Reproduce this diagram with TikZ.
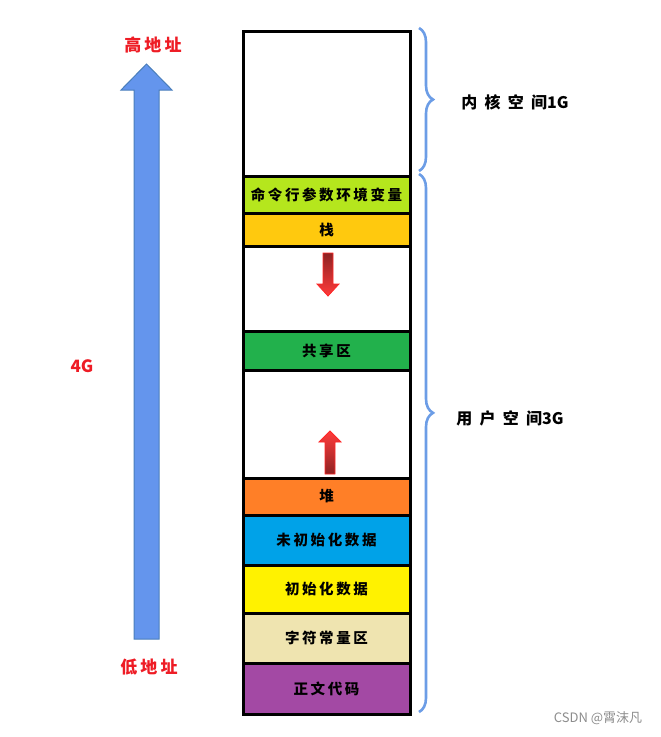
\documentclass[tikz,border=0pt]{standalone}
\usepackage{fontspec}
\newfontfamily\cjk[LetterSpace=18]{Noto Sans CJK SC}
\newfontfamily\cjkwide[LetterSpace=45]{Noto Sans CJK SC}
\newfontfamily\cjkplain{Noto Sans CJK SC}
\usetikzlibrary{decorations.pathreplacing}

\definecolor{limeseg}{HTML}{B5E61D}
\definecolor{amberseg}{HTML}{FFC90E}
\definecolor{greenseg}{HTML}{22B14C}
\definecolor{orangeseg}{HTML}{FF7F27}
\definecolor{blueseg}{HTML}{00A2E8}
\definecolor{yellowseg}{HTML}{FFF200}
\definecolor{beigeseg}{HTML}{EFE4B0}
\definecolor{purpleseg}{HTML}{A349A4}
\definecolor{addrfill}{HTML}{6495ED}
\definecolor{addrdraw}{HTML}{4A7EBB}
\definecolor{bracecol}{HTML}{6C9DE6}
\definecolor{labelred}{HTML}{EE1C25}
\definecolor{darkarrow}{HTML}{8E2323}
\definecolor{brightarrow}{HTML}{FF3B3B}

\begin{document}
\begin{tikzpicture}[x=1pt,y=-1pt]
\tikzset{
  seg/.style={draw=black,line width=3pt,minimum width=167pt,inner sep=0pt,outer sep=0pt,
    font=\cjk\bfseries\fontsize{14.5}{14.5}\selectfont},
  addrlabel/.style={text=labelred,font=\cjk\bfseries\fontsize{17}{17}\selectfont},
  spacelabel/.style={font=\cjkplain\bfseries\fontsize{16}{16}\selectfont},
  spacebrace/.style={draw=bracecol,line width=2.6pt,decorate,decoration={brace,amplitude=14pt}},
  smallarrow/.style={draw=red!85,line width=0.8pt}
}
\useasboundingbox (0,0) rectangle (661,737);
\node[seg,minimum height=145pt] (n_kernel) at (326.5,103.5) {};
\node[seg,minimum height=37pt,fill=limeseg] (n_env) at (326.5,194.5) {命令行参数环境变量};
\node[seg,minimum height=33pt,fill=amberseg] (n_stack) at (326.5,229.5) {栈};
\node[seg,minimum height=85pt] (n_gap1) at (326.5,288.5) {};
\node[seg,minimum height=39pt,fill=greenseg] (n_shared) at (326.5,350.5) {共享区};
\node[seg,minimum height=108pt] (n_gap2) at (326.5,424) {};
\node[seg,minimum height=37pt,fill=orangeseg] (n_heap) at (326.5,496.5) {堆};
\node[seg,minimum height=50pt,fill=blueseg] (n_bss) at (326.5,540) {未初始化数据};
\node[seg,minimum height=48pt,fill=yellowseg] (n_data) at (326.5,589) {初始化数据};
\node[seg,minimum height=50pt,fill=beigeseg] (n_const) at (326.5,638) {字符常量区};
\node[seg,minimum height=51pt,fill=purpleseg] (n_text) at (326.5,688.5) {正文代码};
\filldraw[fill=addrfill,draw=addrdraw,line width=1pt]
  (134,639) -- (134,90) -- (121,90) -- (146.5,64) -- (172,90) -- (159,90) -- (159,639) -- cycle;
\node[addrlabel] (n_high) at (153,45) {高地址};
\node[addrlabel] (n_low) at (149,667) {低地址};
\node[text=labelred,font=\cjkplain\bfseries\fontsize{17}{17}\selectfont] (n_total) at (82,366) {4G};
\shade[smallarrow,top color=darkarrow,bottom color=brightarrow]
  (323,253) -- (333,253) -- (333,284) -- (339,284) -- (328,296) -- (317,284) -- (323,284) -- cycle;
\shade[smallarrow,top color=brightarrow,bottom color=darkarrow]
  (325,474) -- (335,474) -- (335,442) -- (341,442) -- (330,431) -- (319,442) -- (325,442) -- cycle;
\coordinate (b_k1) at (419,28);
\coordinate (b_k2) at (419,171);
\coordinate (b_u1) at (419,174);
\coordinate (b_u2) at (419,712);
\draw[spacebrace] (b_k1) -- (b_k2);
\draw[spacebrace,decoration={aspect=0.444}] (b_u1) -- (b_u2);
\node[spacelabel] (n_klabel) at (515,102) {{\cjkwide\bfseries 内核空间}1G};
\node[spacelabel] (n_ulabel) at (510,418) {{\cjkwide\bfseries 用户空间}3G};
\node[text=black!45,font=\cjkplain\fontsize{13}{13}\selectfont] (n_mark) at (598,718) {CSDN @霄沫凡};
\end{tikzpicture}
\end{document}
